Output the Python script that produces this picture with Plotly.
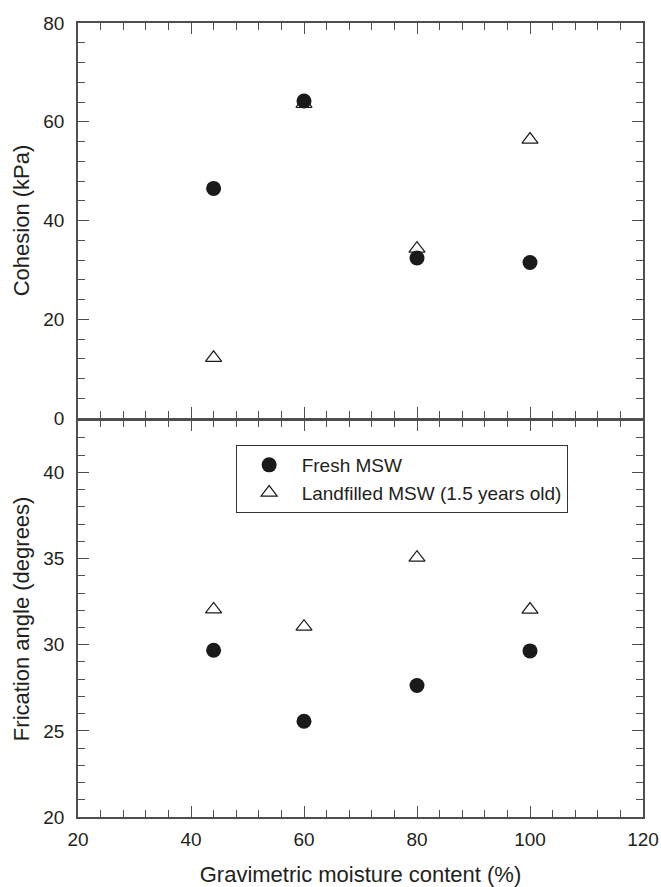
import plotly.graph_objects as go

moisture = [44, 60, 80, 100]
cohesion_fresh = [46.5, 64.2, 32.4, 31.5]
cohesion_landfilled = [12.2, 63.6, 34.3, 56.4]
friction_fresh = [29.68, 25.56, 27.63, 29.64]
friction_landfilled = [32.05, 31.05, 35.05, 32.04]
name_fresh = "Fresh MSW"
name_land = "Landfilled MSW (1.5 years old)"

TXT = "#231f20"
AX = "#4f4f4f"
FONT = "Liberation Sans, Arial, Helvetica, sans-serif"

fig = go.Figure()

circle = dict(symbol="circle", size=15, color="#1a1a1a", line=dict(width=0))
tri = dict(symbol="triangle-up-open", size=14, color="#1a1a1a", line=dict(width=1.2, color="#1a1a1a"))

fig.add_trace(go.Scatter(x=moisture, y=cohesion_landfilled, mode="markers", marker=tri,
                         xaxis="x", yaxis="y", showlegend=False, name=name_land))
fig.add_trace(go.Scatter(x=moisture, y=cohesion_fresh, mode="markers", marker=circle,
                         xaxis="x", yaxis="y", showlegend=False, name=name_fresh))
fig.add_trace(go.Scatter(x=moisture, y=friction_fresh, mode="markers", marker=circle,
                         xaxis="x2", yaxis="y2", name=name_fresh))
fig.add_trace(go.Scatter(x=moisture, y=friction_landfilled, mode="markers", marker=tri,
                         xaxis="x2", yaxis="y2", name=name_land))

common = dict(showline=True, linecolor=AX, linewidth=1.5, mirror="ticks", ticks="inside",
              tickcolor=AX, tickwidth=1.2, ticklen=11, showgrid=False, zeroline=False,
              automargin=False,
              tickfont=dict(size=19, color=TXT, family=FONT))
minor_x = dict(dtick=4, ticks="inside", ticklen=7, tickcolor=AX, tickwidth=1.2)

fig.update_layout(
    width=661, height=887,
    margin=dict(l=78, r=18, t=23, b=70),
    paper_bgcolor="white", plot_bgcolor="white",
    font=dict(family=FONT, color=TXT),
    xaxis=dict(domain=[0, 1], range=[20, 120], dtick=20, tick0=20, anchor="y",
               showticklabels=False, minor=minor_x, **common),
    yaxis=dict(domain=[0.5025, 1], range=[0, 80], dtick=20, anchor="x",
               ticklabelstandoff=8,
               minor=dict(dtick=4, ticks="inside", ticklen=7, tickcolor=AX, tickwidth=1.2),
               title=dict(text="Cohesion (kPa)", font=dict(size=22, color=TXT, family=FONT), standoff=8),
               **common),
    xaxis2=dict(domain=[0, 1], range=[20, 120], dtick=20, tick0=20, anchor="y2",
                ticklabelstandoff=4,
                minor=minor_x,
                title=dict(text="Gravimetric moisture content (%)", font=dict(size=22, color=TXT, family=FONT), standoff=18),
                **common),
    yaxis2=dict(domain=[0, 0.4991], range=[20, 43], dtick=5, anchor="x2",
                ticklabelstandoff=8,
                minor=dict(dtick=1, ticks="inside", ticklen=7, tickcolor=AX, tickwidth=1.2),
                title=dict(text="Frication angle (degrees)", font=dict(size=22, color=TXT, family=FONT), standoff=8),
                **common),
    legend=dict(x=0.279, y=0.4685, xanchor="left", yanchor="top",
                bgcolor="white", bordercolor="#333", borderwidth=1,
                font=dict(size=19, color=TXT, family=FONT),
                itemwidth=55, tracegroupgap=0, itemsizing="trace"),
)

fig.write_html("out.html", config={"displayModeBar": False},
               post_script="document.body.style.margin='0px';")
